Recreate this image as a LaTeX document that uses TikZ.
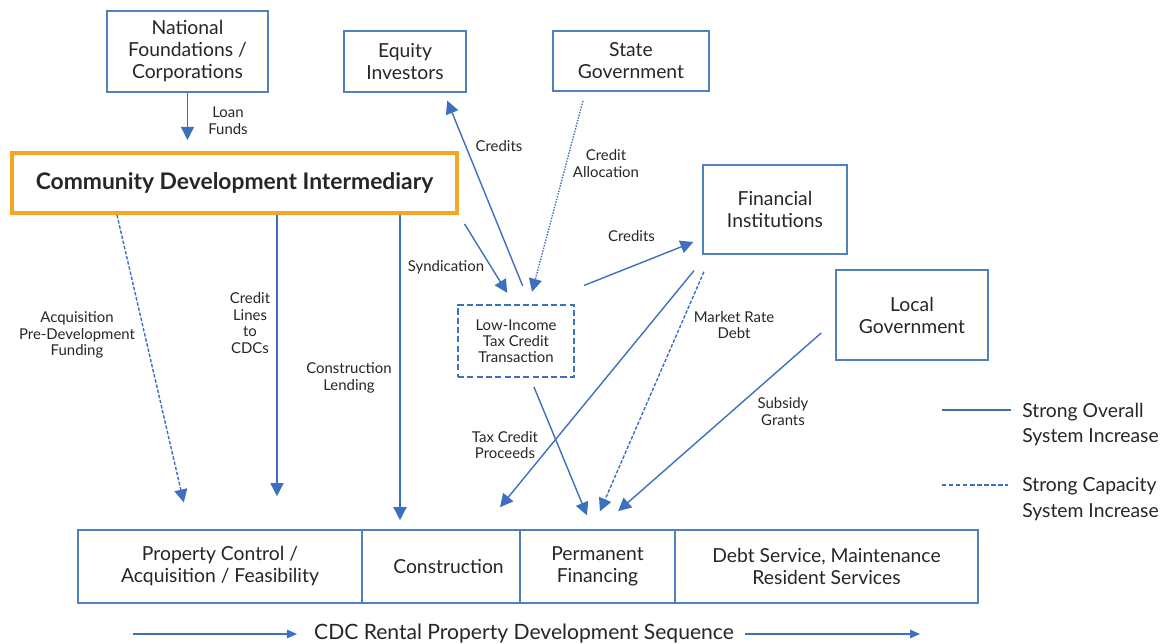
\documentclass[tikz,border=0pt]{standalone}
\usepackage{fontspec}
\setmainfont{Lato}
\usetikzlibrary{arrows.meta}

\definecolor{boxblue}{RGB}{79,129,189}
\definecolor{flowblue}{RGB}{62,112,192}
\definecolor{cdiorange}{RGB}{247,166,35}
\definecolor{inktext}{RGB}{38,38,38}

\tikzset{
  party/.style={rectangle, draw=boxblue, line width=0.9pt, align=center, text=inktext,
                font=\fontsize{11}{12.5}\selectfont, inner sep=0pt},
  stage/.style={rectangle, draw=boxblue, line width=0.9pt, align=center, text=inktext,
                font=\fontsize{11}{12.5}\selectfont, minimum height=1.46cm, inner sep=0pt},
  flow/.style={draw=flowblue, line width=0.8pt, -{Triangle[length=0.26cm,width=0.26cm]}},
  weakflow/.style={flow, dash pattern=on 2pt off 1pt},
  flowlabel/.style={align=center, text=inktext, font=\fontsize{8.5}{9.4}\selectfont, inner sep=0pt},
  legendtext/.style={align=left, anchor=west, text=inktext, font=\fontsize{11}{14.7}\selectfont, inner sep=0pt},
}

\begin{document}
\begin{tikzpicture}[x=0.02cm, y=-0.02cm]
\useasboundingbox (0,0) rectangle (1167,644);

  % funders along the top
  \node[party, minimum width=3.22cm, minimum height=1.62cm] (natfound) at (187.5,51.5)
        {National\\Foundations /\\Corporations};
  \node[party, minimum width=2.44cm, minimum height=1.22cm] (equity) at (405,61.5)
        {Equity\\Investors};
  \node[party, minimum width=3.12cm, minimum height=1.2cm] (stategov) at (631,61)
        {State\\Government};

  % the intermediary
  \node[rectangle, draw=cdiorange, line width=2.3pt, minimum width=8.9cm, minimum height=1.2cm,
        text=inktext, font=\fontsize{13}{15}\selectfont\bfseries] (cdi) at (234.5,183)
        {Community Development Intermediary};

  \node[party, minimum width=2.88cm, minimum height=1.78cm] (fininst) at (775,209.5)
        {Financial\\Institutions};
  \node[party, minimum width=3.04cm, minimum height=1.8cm] (localgov) at (912,315)
        {Local\\Government};

  % tax credit deal
  \node[rectangle, draw=flowblue, line width=1.3pt, dash pattern=on 3.5pt off 1.8pt,
        minimum width=2.32cm, minimum height=1.44cm, align=center, text=inktext,
        font=\fontsize{8.5}{9.2}\selectfont, inner sep=0pt] (lihtc) at (516,341)
        {Low-Income\\Tax Credit\\Transaction};

  % development stages
  \node[stage, minimum width=5.68cm] (stage1) at (220,566.5) {Property Control /\\Acquisition / Feasibility};
  \node[stage, minimum width=3.16cm] (stage2) at (441,566.5) {\hspace*{0.3cm}Construction};
  \node[stage, minimum width=3.1cm] (stage3) at (597.5,566.5) {Permanent\\Financing};
  \node[stage, minimum width=6.06cm] (stage4) at (826.5,566.5) {Debt Service, Maintenance\\Resident Services};

  % flows out of the intermediary
  \draw[flow, shorten >=0.22cm] (natfound.south) -- (natfound.south |- cdi.north);
  \node[flowlabel] (lblloan) at (228,120.5) {Loan\\Funds};

  \draw[weakflow, shorten >=0.55cm] (cdi.south -| 117,0) -- (stage1.north -| 190,0);
  \node[flowlabel] (lblacq) at (77,335) {Acquisition\\Pre-Development\\Funding};

  \draw[flow, shorten >=0.66cm] (cdi.south -| 277,0) -- (stage1.north -| 277,0);
  \node[flowlabel] (lbllines) at (250,323) {Credit\\Lines\\to\\CDCs};

  \draw[flow, shorten >=0.18cm] (cdi.south -| 400,0) -- (stage2.north -| 400,0);
  \node[flowlabel] (lblconst) at (349,378) {Construction\\Lending};

  \draw[flow, shorten <=0.21cm, shorten >=0.26cm] (cdi.south east) -- (lihtc.north -| 514,0);
  \node[flowlabel] (lblsynd) at (446,267) {Syndication};

  % tax credits and allocation
  \draw[flow, shorten <=0.39cm, shorten >=0.17cm] (lihtc.north -| 530,0) -- (equity.south -| 444,0);
  \node[flowlabel] (lblcred1) at (499,146) {Credits};

  \draw[weakflow, dash pattern=on 0.8pt off 0.8pt, shorten <=0.19cm, shorten >=0.25cm]
        (stategov.south -| 585.4,0) -- (lihtc.north -| 528.8,0);
  \node[flowlabel] (lblalloc) at (606,163.5) {Credit\\Allocation};

  \draw[flow, shorten <=0.19cm, shorten >=0.19cm] (lihtc.east |- 0,289) -- (fininst.west |- 0,238.5);
  \node[flowlabel] (lblcred2) at (631.5,236) {Credits};

  % permanent money
  \draw[flow, shorten <=0.41cm, shorten >=0.57cm] (fininst.south -| 707,0) -- (stage2.north -| 482,0);
  \node[flowlabel] (lblproc) at (505,445) {Tax Credit\\Proceeds};

  \draw[weakflow, shorten <=0.37cm, shorten >=0.39cm] (fininst.south -| 711.3,0) -- (stage3.north -| 592.2,0);
  \node[flowlabel] (lblmarket) at (734,325) {Market Rate\\Debt};

  \draw[flow, shorten <=0.19cm, shorten >=0.3cm] (lihtc.south -| 530.3,0) -- (stage3.north -| 592.7,0);

  \draw[flow, shorten <=0.37cm, shorten >=0.55cm] (localgov.west |- 0,320.7) -- (stage3.north -| 597.5,0);
  \node[flowlabel] (lblsubsidy) at (783,411.5) {Subsidy\\Grants};

  % legend
  \draw[draw=flowblue, line width=0.8pt] (942,410) -- (1011,410);
  \node[legendtext] (legsolid) at (1022,424.5) {Strong Overall\\System Increase};
  \draw[draw=flowblue, line width=0.8pt, dash pattern=on 2.5pt off 1.5pt] (942,485) -- (1008,485);
  \node[legendtext] (legdash) at (1022,499.5) {Strong Capacity\\System Increase};

  % sequence arrow under the stages
  \node[text=inktext, font=\fontsize{12}{14}\selectfont] (seq) at (524,634) {CDC Rental Property Development Sequence};
  \coordinate (seqstart) at (133,634);
  \coordinate (seqend) at (920,634);
  \draw[draw=flowblue, line width=0.8pt, -{Triangle[length=0.2cm,width=0.17cm]}, shorten >=0.22cm] (seqstart) -- (seq.west);
  \draw[draw=flowblue, line width=0.8pt, -{Triangle[length=0.2cm,width=0.17cm]}, shorten <=0.1cm] (seq.east) -- (seqend);

\end{tikzpicture}
\end{document}
